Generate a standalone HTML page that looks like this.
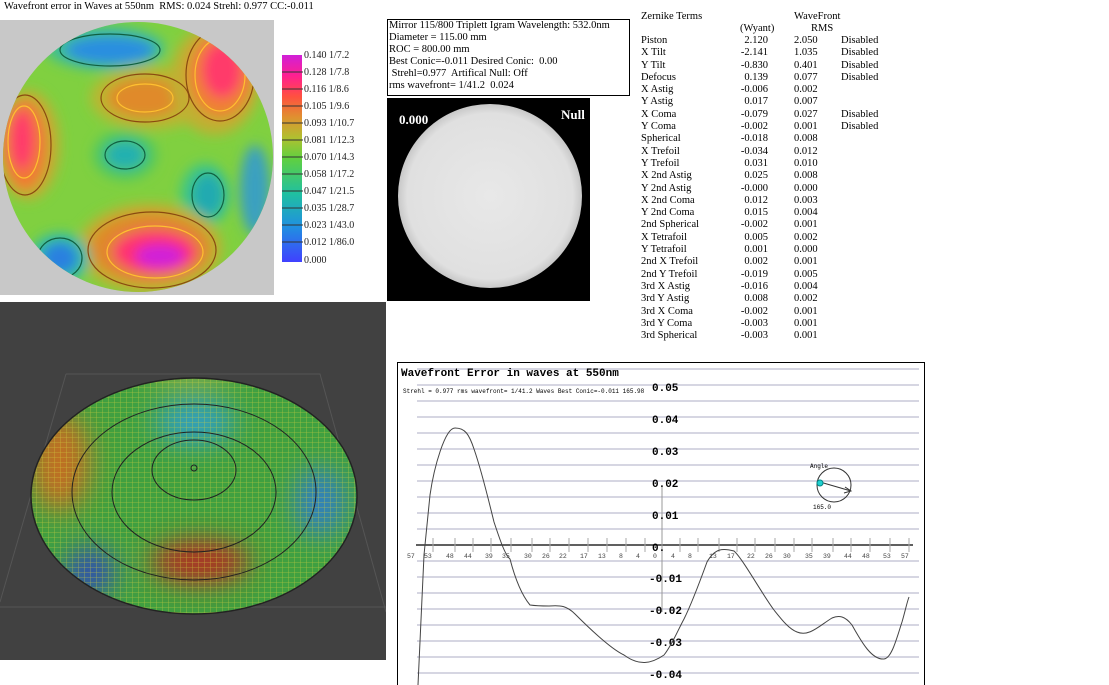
<!DOCTYPE html>
<html><head><meta charset="utf-8"><style>
body{margin:0;width:1109px;height:685px;background:#fff;position:relative;overflow:hidden;font-family:"Liberation Serif",serif;}
.a{position:absolute;white-space:nowrap;}
.t{font-size:10.5px;line-height:12px;}
</style></head><body>
<div class="a t" style="left:4px;top:1px;">Wavefront error in Waves at 550nm&nbsp; RMS: 0.024 Strehl: 0.977 CC:-0.011</div>

<svg class="a" style="left:0;top:0" width="386" height="300">
<defs>
<clipPath id="cc"><circle cx="138" cy="157" r="135"/></clipPath>
<filter id="bl"><feGaussianBlur stdDeviation="6"/></filter>
<linearGradient id="cb" x1="0" y1="1" x2="0" y2="0">
<stop offset="0" stop-color="#4040ff"/><stop offset="0.17" stop-color="#2090e0"/><stop offset="0.33" stop-color="#20c0a0"/><stop offset="0.5" stop-color="#60d040"/><stop offset="0.6" stop-color="#b0c030"/><stop offset="0.7" stop-color="#e09030"/><stop offset="0.8" stop-color="#ff5040"/><stop offset="0.9" stop-color="#ff2090"/><stop offset="1" stop-color="#d020d8"/></linearGradient>
</defs>
<rect x="0" y="20" width="274" height="275" fill="#c8c8c8"/>
<g clip-path="url(#cc)">
<rect x="0" y="20" width="274" height="275" fill="#80d040"/>
<g filter="url(#bl)">
<ellipse cx="105" cy="48" rx="60" ry="22" fill="#40c090"/>
<ellipse cx="110" cy="50" rx="45" ry="14" fill="#2a8ee0"/>
<ellipse cx="150" cy="98" rx="60" ry="32" fill="#b8b830"/>
<ellipse cx="145" cy="98" rx="38" ry="20" fill="#e08a2a"/>
<ellipse cx="215" cy="80" rx="45" ry="55" fill="#c0b030"/>
<ellipse cx="220" cy="75" rx="32" ry="42" fill="#f08030"/>
<ellipse cx="222" cy="70" rx="20" ry="28" fill="#ff3a6a"/>
<ellipse cx="28" cy="145" rx="32" ry="55" fill="#c0b030"/>
<ellipse cx="25" cy="145" rx="22" ry="45" fill="#f07a30"/>
<ellipse cx="22" cy="140" rx="12" ry="30" fill="#ff3a6a"/>
<ellipse cx="125" cy="155" rx="32" ry="25" fill="#50c860"/>
<ellipse cx="125" cy="155" rx="20" ry="14" fill="#22b0b0"/>
<ellipse cx="205" cy="195" rx="25" ry="32" fill="#40c880"/>
<ellipse cx="208" cy="195" rx="16" ry="22" fill="#22aab0"/>
<ellipse cx="255" cy="190" rx="15" ry="45" fill="#3aa0c0"/>
<ellipse cx="150" cy="248" rx="72" ry="45" fill="#c0b030"/>
<ellipse cx="150" cy="248" rx="60" ry="35" fill="#e0882a"/>
<ellipse cx="155" cy="252" rx="42" ry="22" fill="#ff3070"/>
<ellipse cx="160" cy="256" rx="25" ry="12" fill="#d020d8"/>
<ellipse cx="60" cy="258" rx="30" ry="25" fill="#30c0a0"/>
<ellipse cx="60" cy="258" rx="18" ry="16" fill="#2a80e0"/>
</g>
<g fill="none" stroke-width="1.2">
<ellipse cx="145" cy="98" rx="44" ry="24" stroke="#8a4a10"/>
<ellipse cx="145" cy="98" rx="28" ry="14" stroke="#ffc030"/>
<ellipse cx="220" cy="75" rx="34" ry="46" stroke="#8a4a10"/>
<ellipse cx="220" cy="75" rx="25" ry="36" stroke="#ffc030"/>
<ellipse cx="25" cy="145" rx="26" ry="50" stroke="#8a4a10"/>
<ellipse cx="24" cy="142" rx="16" ry="36" stroke="#ffc030"/>
<ellipse cx="125" cy="155" rx="20" ry="14" stroke="#106040"/>
<ellipse cx="208" cy="195" rx="16" ry="22" stroke="#106040"/>
<ellipse cx="152" cy="250" rx="64" ry="38" stroke="#8a4a10"/>
<ellipse cx="155" cy="252" rx="48" ry="26" stroke="#ffc030"/>
<ellipse cx="60" cy="258" rx="22" ry="20" stroke="#106040"/>
<ellipse cx="110" cy="50" rx="50" ry="16" stroke="#106040"/>
</g>
</g>
<rect x="282" y="55" width="20" height="207" fill="url(#cb)"/>
<g stroke="#333" stroke-width="1">
<line x1="282" y1="72" x2="303" y2="72"/><line x1="282" y1="89" x2="303" y2="89"/><line x1="282" y1="106" x2="303" y2="106"/><line x1="282" y1="123" x2="303" y2="123"/><line x1="282" y1="140" x2="303" y2="140"/><line x1="282" y1="157" x2="303" y2="157"/><line x1="282" y1="174" x2="303" y2="174"/><line x1="282" y1="191" x2="303" y2="191"/><line x1="282" y1="208" x2="303" y2="208"/><line x1="282" y1="225" x2="303" y2="225"/><line x1="282" y1="242" x2="303" y2="242"/>
</g>
<g font-family="Liberation Serif,serif" font-size="10" fill="#222">
<text x="304" y="58">0.140 1/7.2</text><text x="304" y="75">0.128 1/7.8</text><text x="304" y="92">0.116 1/8.6</text><text x="304" y="109">0.105 1/9.6</text><text x="304" y="126">0.093 1/10.7</text><text x="304" y="143">0.081 1/12.3</text><text x="304" y="160">0.070 1/14.3</text><text x="304" y="177">0.058 1/17.2</text><text x="304" y="194">0.047 1/21.5</text><text x="304" y="211">0.035 1/28.7</text><text x="304" y="228">0.023 1/43.0</text><text x="304" y="245">0.012 1/86.0</text><text x="304" y="263">0.000</text>
</g>
</svg>

<div class="a t" style="left:387px;top:19px;width:240px;height:75px;border:1px solid #000;padding-left:1px;">Mirror 115/800 Triplett Igram Wavelength: 532.0nm<br>Diameter = 115.00 mm<br>ROC = 800.00 mm<br>Best Conic=-0.011 Desired Conic:&nbsp; 0.00<br>&nbsp;Strehl=0.977&nbsp; Artifical Null: Off<br>rms wavefront= 1/41.2&nbsp; 0.024</div>

<svg class="a" style="left:387px;top:98px" width="203" height="203">
<defs><radialGradient id="wg"><stop offset="0" stop-color="#e8e8e8"/><stop offset="0.9" stop-color="#e0e0e0"/><stop offset="1" stop-color="#c8c8c8"/></radialGradient></defs>
<rect width="203" height="203" fill="#000"/>
<circle cx="103" cy="98" r="92" fill="url(#wg)"/>
<text x="12" y="26" font-family="Liberation Serif,serif" font-weight="bold" font-size="13" fill="#fff">0.000</text>
<text x="174" y="21" font-family="Liberation Serif,serif" font-weight="bold" font-size="13" fill="#fff">Null</text>
</svg>

<div class="a t" style="left:641px;top:11px;">Zernike Terms</div>
<div class="a t" style="left:794px;top:11px;">WaveFront</div>
<div class="a t" style="left:740px;top:23px;">(Wyant)</div>
<div class="a t" style="left:811px;top:23px;">RMS</div>
<div class="a t" style="left:641px;top:35px;line-height:12.3px;">Piston<br>X Tilt<br>Y Tilt<br>Defocus<br>X Astig<br>Y Astig<br>X Coma<br>Y Coma<br>Spherical<br>X Trefoil<br>Y Trefoil<br>X 2nd Astig<br>Y 2nd Astig<br>X 2nd Coma<br>Y 2nd Coma<br>2nd Spherical<br>X Tetrafoil<br>Y Tetrafoil<br>2nd X Trefoil<br>2nd Y Trefoil<br>3rd X Astig<br>3rd Y Astig<br>3rd X Coma<br>3rd Y Coma<br>3rd Spherical</div>
<div class="a t" style="left:720px;width:48px;text-align:right;top:35px;line-height:12.3px;">2.120<br>-2.141<br>-0.830<br>0.139<br>-0.006<br>0.017<br>-0.079<br>-0.002<br>-0.018<br>-0.034<br>0.031<br>0.025<br>-0.000<br>0.012<br>0.015<br>-0.002<br>0.005<br>0.001<br>0.002<br>-0.019<br>-0.016<br>0.008<br>-0.002<br>-0.003<br>-0.003</div>
<div class="a t" style="left:794px;top:35px;line-height:12.3px;">2.050<br>1.035<br>0.401<br>0.077<br>0.002<br>0.007<br>0.027<br>0.001<br>0.008<br>0.012<br>0.010<br>0.008<br>0.000<br>0.003<br>0.004<br>0.001<br>0.002<br>0.000<br>0.001<br>0.005<br>0.004<br>0.002<br>0.001<br>0.001<br>0.001</div>
<div class="a t" style="left:841px;top:35px;line-height:12.3px;">Disabled<br>Disabled<br>Disabled<br>Disabled<br><br><br>Disabled<br>Disabled</div>

<svg class="a" style="left:0;top:302px" width="386" height="358">
<defs>
<clipPath id="dc"><ellipse cx="194" cy="194" rx="163" ry="118"/></clipPath>
<filter id="b2"><feGaussianBlur stdDeviation="14"/></filter>
<pattern id="grid" width="6" height="5" patternUnits="userSpaceOnUse"><path d="M0 0H6M0 0V5" stroke="#d0d040" stroke-width="0.8" fill="none" opacity="0.7"/></pattern>
</defs>
<rect width="386" height="358" fill="#414141"/>
<path d="M66 72 L320 72 L386 310 M66 72 L0 300 M0 305 H386" stroke="#555" fill="none"/>
<g clip-path="url(#dc)">
<rect width="386" height="358" fill="#40a040"/>
<g filter="url(#b2)">
<ellipse cx="150" cy="25" rx="40" ry="12" fill="#2050c0"/>
<ellipse cx="270" cy="30" rx="40" ry="15" fill="#b04020"/>
<ellipse cx="60" cy="160" rx="30" ry="50" fill="#c07020"/>
<ellipse cx="195" cy="120" rx="40" ry="22" fill="#30a0c0"/>
<ellipse cx="200" cy="260" rx="50" ry="22" fill="#b03020"/>
<ellipse cx="90" cy="270" rx="25" ry="25" fill="#3050b0"/>
<ellipse cx="320" cy="200" rx="25" ry="35" fill="#3080c0"/>
<ellipse cx="190" cy="60" rx="50" ry="20" fill="#90b030"/>
</g>
<rect width="386" height="358" fill="url(#grid)"/>
</g>
<ellipse cx="194" cy="194" rx="163" ry="118" fill="none" stroke="#222" stroke-width="1.5"/>
<ellipse cx="194" cy="190" rx="122" ry="88" fill="none" stroke="#222"/>
<ellipse cx="194" cy="190" rx="82" ry="60" fill="none" stroke="#222"/>
<ellipse cx="194" cy="168" rx="42" ry="30" fill="none" stroke="#222"/>
<circle cx="194" cy="166" r="3" fill="none" stroke="#222"/>
</svg>

<svg class="a" style="left:397px;top:362px" width="528" height="323" font-family="Liberation Mono,monospace">
<rect x="0.5" y="0.5" width="527" height="330" fill="#fff" stroke="#000"/>
<g stroke="#c8c8d8" stroke-width="1.5">
<line x1="20" y1="7" x2="522" y2="7"/><line x1="20" y1="23" x2="522" y2="23"/><line x1="20" y1="39" x2="522" y2="39"/><line x1="20" y1="55" x2="522" y2="55"/><line x1="20" y1="71" x2="522" y2="71"/><line x1="20" y1="87" x2="522" y2="87"/><line x1="20" y1="103" x2="522" y2="103"/><line x1="20" y1="119" x2="522" y2="119"/><line x1="20" y1="135" x2="522" y2="135"/><line x1="20" y1="151" x2="522" y2="151"/><line x1="20" y1="167" x2="522" y2="167"/><line x1="20" y1="199" x2="522" y2="199"/><line x1="20" y1="215" x2="522" y2="215"/><line x1="20" y1="231" x2="522" y2="231"/><line x1="20" y1="247" x2="522" y2="247"/><line x1="20" y1="263" x2="522" y2="263"/><line x1="20" y1="279" x2="522" y2="279"/><line x1="20" y1="295" x2="522" y2="295"/><line x1="20" y1="311" x2="522" y2="311"/>
</g>
<line x1="19" y1="183" x2="516" y2="183" stroke="#000" stroke-width="1.3"/>
<line x1="265" y1="125" x2="265" y2="250" stroke="#999"/>
<g stroke="#aaa"><path d="M36 176v14M58 176v14M76 176v14M94 176v14M114 176v14M135 176v14M153 176v14M172 176v14M191 176v14M210 176v14M229 176v14M248 176v14M283 176v14M301 176v14M322 176v14M340 176v14M358 176v14M378 176v14M397 176v14M415 176v14M436 176v14M454 176v14M473 176v14M493 176v14M512 176v14"/></g>
<text x="4" y="14" font-size="11" font-weight="bold">Wavefront Error in waves at 550nm</text>
<text x="6" y="31" font-size="6">Strehl = 0.977 rms wavefront= 1/41.2 Waves Best Conic=-0.011 165.98</text>
<g font-size="11" font-family="Liberation Mono,monospace" font-weight="bold">
<text x="255" y="29">0.05</text><text x="255" y="61">0.04</text><text x="255" y="93">0.03</text><text x="255" y="125">0.02</text><text x="255" y="157">0.01</text><text x="255" y="189">0.</text><text x="252" y="220">-0.01</text><text x="252" y="252">-0.02</text><text x="252" y="284">-0.03</text><text x="252" y="316">-0.04</text>
</g>
<g font-size="6.5" fill="#444">
<text x="10" y="196">57</text><text x="27" y="196">53</text><text x="49" y="196">48</text><text x="67" y="196">44</text><text x="88" y="196">39</text><text x="105" y="196">35</text><text x="127" y="196">30</text><text x="145" y="196">26</text><text x="162" y="196">22</text><text x="183" y="196">17</text><text x="201" y="196">13</text><text x="222" y="196">8</text><text x="239" y="196">4</text><text x="256" y="196">0</text><text x="274" y="196">4</text><text x="291" y="196">8</text><text x="312" y="196">13</text><text x="330" y="196">17</text><text x="350" y="196">22</text><text x="368" y="196">26</text><text x="386" y="196">30</text><text x="408" y="196">35</text><text x="426" y="196">39</text><text x="447" y="196">44</text><text x="465" y="196">48</text><text x="486" y="196">53</text><text x="504" y="196">57</text>
</g>
<path d="M21 323 L27 193 L33 133 C37 105 48 66 58 66 C68 66 72 72 77 87 C85 110 92 140 97 160 C103 178 108 193 113 197 C120 224 128 237 133 243 C140 244 145 244 152 244 C164 243 170 244 178 252 C188 262 212 286 227 293 C242 304 254 302 267 293 C275 283 281 268 287 257 C294 243 302 222 310 200 C318 186 326 186 337 189 C346 197 365 232 377 248 C385 258 392 267 400 270 C412 275 422 264 435 256 C442 253 448 254 455 263 C465 281 475 298 487 297 C495 296 500 275 505 260 C508 250 510 240 512 235" fill="none" stroke="#444" stroke-width="1"/>
<circle cx="437" cy="123" r="17" fill="none" stroke="#333"/>
<line x1="423" y1="120" x2="454" y2="129" stroke="#333"/>
<path d="M448 125 L454 129 L447 131" fill="none" stroke="#333"/>
<circle cx="423" cy="121" r="3" fill="#20d0d0" stroke="#088"/>
<text x="413" y="106" font-size="6">Angle</text>
<text x="416" y="147" font-size="6">165.0</text>
</svg>
</body></html>
